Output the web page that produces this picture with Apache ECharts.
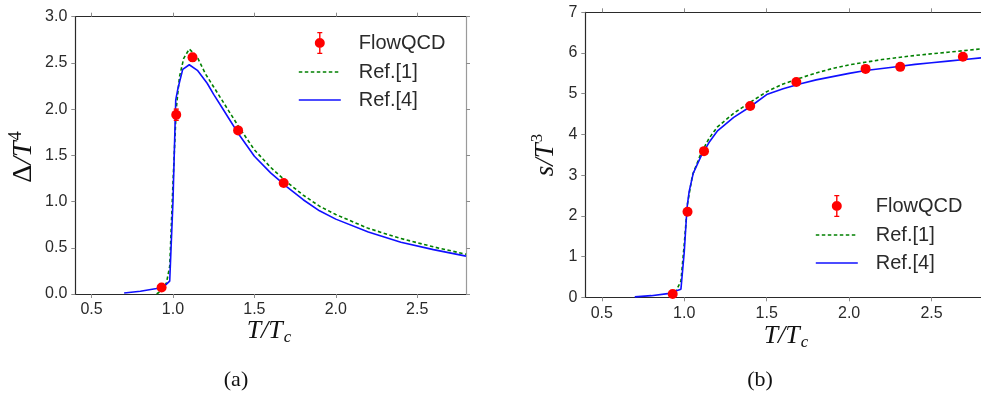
<!DOCTYPE html>
<html>
<head>
<meta charset="utf-8">
<script src="https://cdn.jsdelivr.net/npm/echarts@6/dist/echarts.min.js"></script>
<style>html,body{margin:0;padding:0;background:#fff}#c{width:981px;height:402px}</style>
</head>
<body>
<div id="c"></div>
<script>
// ---------- data: panel (a) trace anomaly ----------
const xTicks = [0.5, 1.0, 1.5, 2.0, 2.5];
const flowA_T = [0.93, 1.02, 1.12, 1.40, 1.68];
const flowA_v = [0.07, 1.94, 2.56, 1.77, 1.20];
const flowA_e = [0.02, 0.06, 0.04, 0.03, 0.03];
const ref1A_T = [0.90,0.93,0.96,0.98,1.00,1.02,1.04,1.066,1.10,1.13,1.15,1.20,1.25,1.30,1.35,1.40,1.50,1.60,1.70,1.80,1.90,2.00,2.20,2.40,2.60,2.80];
const ref1A_v = [0.00,0.04,0.12,0.30,1.20,2.00,2.35,2.55,2.65,2.60,2.56,2.38,2.24,2.10,1.96,1.82,1.56,1.37,1.21,1.07,0.95,0.86,0.71,0.60,0.51,0.43];
const ref4A_T = [0.70,0.80,0.90,0.95,0.98,1.00,1.017,1.03,1.06,1.10,1.15,1.21,1.25,1.30,1.35,1.40,1.50,1.60,1.70,1.80,1.90,2.00,2.20,2.40,2.60,2.80];
const ref4A_v = [0.01,0.03,0.06,0.09,0.14,1.00,2.10,2.22,2.43,2.48,2.42,2.28,2.16,2.02,1.88,1.74,1.49,1.31,1.16,1.02,0.90,0.81,0.67,0.56,0.48,0.41];

// ---------- data: panel (b) entropy density ----------
const flowB_T = [0.93, 1.02, 1.12, 1.40, 1.68, 2.10, 2.31, 2.69];
const flowB_v = [0.08, 2.10, 3.59, 4.70, 5.29, 5.61, 5.66, 5.91];
const flowB_e = [0.04, 0.06, 0.06, 0.05, 0.05, 0.05, 0.05, 0.05];
const ref1B_T = [0.92,0.95,0.98,1.00,1.02,1.05,1.10,1.15,1.20,1.30,1.40,1.50,1.60,1.70,1.80,1.90,2.00,2.20,2.40,2.60,2.80];
const ref1B_v = [0.00,0.15,0.40,1.30,2.30,3.00,3.52,3.90,4.18,4.52,4.79,5.05,5.24,5.38,5.51,5.62,5.71,5.84,5.94,6.02,6.10];
const ref4B_T = [0.70,0.80,0.90,0.98,1.00,1.017,1.03,1.055,1.10,1.15,1.20,1.30,1.40,1.50,1.60,1.70,1.80,1.90,2.00,2.10,2.20,2.30,2.40,2.50,2.60,2.70,2.80];
const ref4B_v = [0.01,0.04,0.09,0.20,1.10,2.20,2.60,3.05,3.45,3.80,4.08,4.42,4.68,4.98,5.12,5.24,5.34,5.42,5.50,5.57,5.62,5.67,5.72,5.76,5.80,5.84,5.88];

const legendNames = ['FlowQCD', 'Ref.[1]', 'Ref.[4]'];

// ---------- styling ----------
const RED = '#ff0000', GREEN = '#008000', BLUE = '#1010ff';
const SANS = 'Liberation Sans, Arial, sans-serif';
const SERIF = 'Liberation Serif, Times New Roman, serif';
const DARK = '#2a2a2a', GRAY = '#8c8c8c';
const DOTS = [3.5, 2.5];

const zip = (a, b) => a.map((v, i) => [v, b[i]]);
const zip3 = (a, b, c) => a.map((v, i) => [v, b[i], c[i]]);

function errRender(params, api) {
  const x = api.value(0), y = api.value(1), e = api.value(2);
  const t = api.coord([x, y + e]), b = api.coord([x, y - e]);
  const st = {stroke: RED, lineWidth: 1.5};
  return {type: 'group', children: [
    {type: 'line', shape: {x1: t[0], y1: t[1], x2: b[0], y2: b[1]}, style: st},
    {type: 'line', shape: {x1: t[0] - 2.5, y1: t[1], x2: t[0] + 2.5, y2: t[1]}, style: st},
    {type: 'line', shape: {x1: b[0] - 2.5, y1: b[1], x2: b[0] + 2.5, y2: b[1]}, style: st}
  ]};
}

function xAxisCfg(grid, pos, showLabels) {
  return {
    type: 'value', gridIndex: grid, position: pos, min: 0.4, max: 2.8,
    axisLine: {show: true, onZero: false, lineStyle: {color: DARK, width: 1.2}},
    axisTick: {show: true, inside: false, length: 4, lineStyle: {color: GRAY, width: 1}, customValues: xTicks},
    axisLabel: {show: showLabels, customValues: xTicks, formatter: v => v.toFixed(1),
      fontSize: 16, fontFamily: SANS, color: DARK, margin: 8},
    splitLine: {show: false}
  };
}
function yAxisCfg(grid, pos, max, interval, showLabels, color, dec) {
  return {
    type: 'value', gridIndex: grid, position: pos, min: 0, max: max, interval: interval,
    axisLine: {show: true, onZero: false, lineStyle: {color: color, width: 1.2}},
    axisTick: {show: true, inside: false, length: 4, lineStyle: {color: GRAY, width: 1}},
    axisLabel: {show: showLabels, formatter: v => v.toFixed(dec),
      fontSize: 16, fontFamily: SANS, color: DARK, margin: 8},
    splitLine: {show: false}
  };
}

const flowIcon = 'path://M0,11h0.01v0.01h-0.01Z M41.99,11h0.01v0.01h-0.01Z ' +
  'M18.5,0H23.5V1.3H21.7V6.4H20.3V1.3H18.5Z ' +
  'M20.3,15.6H21.7V20.7H23.5V22H18.5V20.7H20.3Z ' +
  'M16,11A5,5 0 1,1 26,11A5,5 0 1,1 16,11Z';

const hiddenSym = {opacity: 0, color: 'rgba(0,0,0,0)', borderWidth: 0};

function legendCfg(left, top) {
  return {
    orient: 'vertical', left: left, top: top, padding: 0,
    itemWidth: 42, itemHeight: 22, itemGap: 8, selectedMode: false,
    textStyle: {fontSize: 20, fontFamily: SANS, color: DARK, padding: [0, 0, 0, 13]},
    data: [{name: legendNames[0], icon: flowIcon},
           {name: legendNames[1], itemStyle: hiddenSym, lineStyle: {color: GREEN, width: 1.6, type: DOTS}},
           {name: legendNames[2], itemStyle: hiddenSym, lineStyle: {color: BLUE, width: 1.6, type: 'solid'}}]
  };
}

function lineSeries(name, xi, yi, T, v, color, dash) {
  return {
    name: name, type: 'line', xAxisIndex: xi, yAxisIndex: yi, data: zip(T, v),
    symbol: 'none', showSymbol: false, smooth: false, z: 2,
    lineStyle: {color: color, width: 1.6, type: dash},
    itemStyle: {color: color}
  };
}

const option = {
  animation: false,
  backgroundColor: '#ffffff',
  grid: [
    {left: 75.3, top: 16.7, width: 390.7, height: 277.3},
    {left: 585.3, top: 12.3, width: 402, height: 285}
  ],
  xAxis: [
    xAxisCfg(0, 'bottom', true),
    xAxisCfg(0, 'top', false),
    xAxisCfg(1, 'bottom', true),
    xAxisCfg(1, 'top', false)
  ],
  yAxis: [
    yAxisCfg(0, 'left', 3, 0.5, true, DARK, 1),
    yAxisCfg(0, 'right', 3, 0.5, false, '#9a9a9a', 1),
    yAxisCfg(1, 'left', 7, 1, true, DARK, 0)
  ],
  legend: [legendCfg(298, 32), legendCfg(815, 195)],
  series: [
    lineSeries(legendNames[1], 0, 0, ref1A_T, ref1A_v, GREEN, DOTS),
    lineSeries(legendNames[2], 0, 0, ref4A_T, ref4A_v, BLUE, 'solid'),
    {name: 'errA', type: 'custom', xAxisIndex: 0, yAxisIndex: 0, renderItem: errRender,
      data: zip3(flowA_T, flowA_v, flowA_e), z: 4},
    {name: legendNames[0], type: 'scatter', xAxisIndex: 0, yAxisIndex: 0, data: zip(flowA_T, flowA_v),
      symbol: 'circle', symbolSize: 10, itemStyle: {color: RED, opacity: 1}, z: 5},
    lineSeries(legendNames[1], 2, 2, ref1B_T, ref1B_v, GREEN, DOTS),
    lineSeries(legendNames[2], 2, 2, ref4B_T, ref4B_v, BLUE, 'solid'),
    {name: 'errB', type: 'custom', xAxisIndex: 2, yAxisIndex: 2, renderItem: errRender,
      data: zip3(flowB_T, flowB_v, flowB_e), z: 4},
    {name: legendNames[0], type: 'scatter', xAxisIndex: 2, yAxisIndex: 2, data: zip(flowB_T, flowB_v),
      symbol: 'circle', symbolSize: 10, itemStyle: {color: RED, opacity: 1}, z: 5}
  ],
  graphic: [
    {type: 'text', x: 269, y: 331, style: {text: '{i|T/T}{s|c}', align: 'center', verticalAlign: 'middle', fill: '#111',
      rich: {i: {fontFamily: SERIF, fontStyle: 'italic', fontSize: 26, fill: '#111'},
             s: {fontFamily: SERIF, fontStyle: 'italic', fontSize: 17, padding: [14, 0, 0, 1], fill: '#111'}}}},
    {type: 'text', x: 786, y: 336, style: {text: '{i|T/T}{s|c}', align: 'center', verticalAlign: 'middle', fill: '#111',
      rich: {i: {fontFamily: SERIF, fontStyle: 'italic', fontSize: 26, fill: '#111'},
             s: {fontFamily: SERIF, fontStyle: 'italic', fontSize: 17, padding: [14, 0, 0, 1], fill: '#111'}}}},
    {type: 'text', x: 24, y: 157, rotation: Math.PI / 2, style: {text: '{d|Δ}{i|/T}{p|4}', align: 'center', verticalAlign: 'middle', fill: '#111',
      rich: {d: {fontFamily: SERIF, fontSize: 28, fill: '#111'},
             i: {fontFamily: SERIF, fontStyle: 'italic', fontSize: 28, fill: '#111'},
             p: {fontFamily: SERIF, fontSize: 18, padding: [0, 0, 16, 1], fill: '#111'}}}},
    {type: 'text', x: 546, y: 155, rotation: Math.PI / 2, style: {text: '{i|s/T}{p|3}', align: 'center', verticalAlign: 'middle', fill: '#111',
      rich: {i: {fontFamily: SERIF, fontStyle: 'italic', fontSize: 27, fill: '#111'},
             p: {fontFamily: SERIF, fontSize: 17, padding: [0, 0, 16, 1], fill: '#111'}}}},
    {type: 'text', x: 236, y: 380, style: {text: '(a)', font: '22px ' + SERIF, align: 'center', verticalAlign: 'middle', fill: '#111'}},
    {type: 'text', x: 760, y: 380, style: {text: '(b)', font: '22px ' + SERIF, align: 'center', verticalAlign: 'middle', fill: '#111'}}
  ]
};

const chart = echarts.init(document.getElementById('c'), null, {renderer: 'canvas'});
chart.setOption(option);
</script>
</body>
</html>
